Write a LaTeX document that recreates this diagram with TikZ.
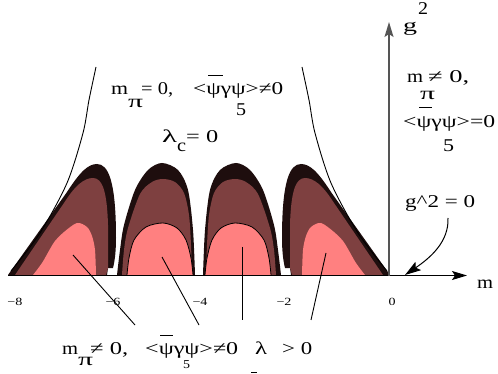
\documentclass[tikz,border=0pt]{standalone}
\usepackage{fontspec}
\setmainfont{Liberation Serif}
\usetikzlibrary{arrows.meta}
\definecolor{lobeblack}{RGB}{30,14,14}
\definecolor{lobebrown}{RGB}{126,64,64}
\definecolor{lobepink}{RGB}{255,128,128}
\definecolor{axisgray}{RGB}{85,85,85}
\newcommand{\tw}[2]{\resizebox{#1pt}{\height}{#2}}
\begin{document}
\begin{tikzpicture}[x=1pt,y=-1pt,
  lbl/.style={anchor=base west, inner sep=0pt, font=\fontsize{18}{21}\selectfont},
  sml/.style={anchor=base west, inner sep=0pt, font=\fontsize{12}{14}\selectfont},
  tick/.style={anchor=base, inner sep=0pt, font=\fontsize{11}{13}\selectfont},
  pointer/.style={draw=black, line width=0.9pt},
  thincurve/.style={draw=black, line width=0.9pt},
  barline/.style={draw=black, line width=0.9pt},
  axisarrow/.style={-{Stealth[length=15pt,width=9pt,inset=3pt]}}]
\useasboundingbox (0,0) rectangle (498,374);

% ---------- lobes (left half) and mirrored (right half) ----------
\foreach \mir in {0,1}{
\begin{scope}[shift={(\mir*398,0)}, xscale={1-2*\mir}]
  % lobe 1 (outer)
  \fill[lobeblack] (8,275) -- (67,192) .. controls (80,172) and (88,164) .. (97,164)
     .. controls (108,164) and (116,180) .. (116,238) .. controls (116,255) and (114,264) .. (113,268)
     -- (108,268) -- (107,275) -- cycle;
  \fill[lobebrown] (15,275) -- (66,200) .. controls (75,186) and (84,178) .. (93,178)
     .. controls (102,178) and (107,190) .. (108,225) -- (108,268) -- (106,275) -- cycle;
  \fill[lobepink] plot[smooth] coordinates {(33,275) (42,263) (50,249) (55,241) (64,232) (77,223) (87,227) (92,236) (95,250) (96,275)} -- cycle;
  % lobe 2 (inner)
  \fill[lobeblack] plot[smooth] coordinates {(117,275) (120,250) (124,225) (135,190) (148,170) (162,163) (178,170) (188,190) (193,230) (195,275)} -- cycle;
  \fill[lobebrown] plot[smooth] coordinates {(122,275) (124,250) (128,228) (140,194) (152,182) (163,179) (175,182) (184,193) (189,215) (191,245) (192,275)} -- cycle;
  \fill[lobepink] plot[smooth] coordinates {(127,275) (129,258) (134,240) (146,227) (163,223) (177,228) (186,240) (191,258) (193,275)} -- cycle;
  \draw[black, line width=0.8pt] plot[smooth] coordinates {(127,275) (129,258) (134,240) (146,227) (163,223) (177,228) (186,240) (191,258) (193,275)};
  % thin outer curve
  \draw[thincurve] plot[smooth] coordinates {(96,67) (89,100) (83,133) (67,183) (40,233) (11,271)};
\end{scope}
}

% ---------- axes ----------
\coordinate (xa0) at (8,275.5);
\coordinate (xa1) at (467,275.5);
\coordinate (ya0) at (389,276);
\coordinate (ya1) at (389,22);
\draw[black, line width=1pt, axisarrow] (xa0) -- (xa1);
\draw[axisgray, line width=1.5pt, axisarrow] (ya0) -- (ya1);

% ---------- tick labels ----------
\node[tick] (tm8) at (15,305) {\tw{15}{−8}};
\node[tick] (tm6) at (113,305) {\tw{15}{−6}};
\node[tick] (tm4) at (200,305) {\tw{15}{−4}};
\node[tick] (tm2) at (284,305) {\tw{15}{−2}};
\node[tick] (t0) at (392,305) {\tw{7}{0}};

% ---------- axis labels ----------
\node[lbl] (mlab) at (477,288) {\tw{16}{m}};
\node[lbl] (glab) at (403,32) {\tw{14}{g}};
\node[lbl] (g2lab) at (418,15) {\tw{10}{2}};

% ---------- top middle text ----------
\node[lbl] (a1) at (111,95) {\tw{17}{m}};
\node[lbl] (a2) at (128,108) {\tw{15}{π}};
\node[lbl] (a3) at (141,95) {\tw{32}{= 0,}};
\node[lbl] (a4) at (193,95) {\tw{90}{<ψγψ>≠0}};
\node[lbl] (a5) at (236,116) {\tw{10}{5}};
\coordinate (a6a) at (208,75); \coordinate (a6b) at (223,75);
\draw[barline] (a6a) -- (a6b);
\node[lbl] (b1) at (162,143) {\tw{15}{λ}};
\node[lbl] (b2) at (177,152) {\tw{9}{c}};
\node[lbl] (b3) at (186,143) {\tw{32}{= 0}};

% ---------- top right text ----------
\node[lbl] (c1) at (407,83) {\tw{16}{m}};
\node[lbl] (c2) at (420,100) {\tw{15}{π}};
\node[lbl] (c3) at (428,83) {\tw{41}{≠ 0,}};
\node[lbl] (c4) at (403,128) {\tw{92}{<ψγψ>=0}};
\coordinate (c5a) at (419,107); \coordinate (c5b) at (432,107);
\draw[barline] (c5a) -- (c5b);
\node[lbl] (c6) at (443,152) {\tw{11}{5}};

% ---------- g^2 = 0 ----------
\node[lbl] (gz) at (405,208) {\tw{70}{g\^{}2 = 0}};
\coordinate (gza) at (448,218);
\coordinate (gzb) at (405,275);
\draw[line width=1pt, -{Stealth[length=16pt,width=10pt,inset=3pt]}] (gza) .. controls (449,242) and (430,258) .. (gzb);

% ---------- bottom text ----------
\node[lbl] (d1) at (62,354) {\tw{16}{m}};
\node[lbl] (d2) at (78,365) {\tw{15}{π}};
\node[lbl] (d3) at (90,354) {\tw{38}{≠ 0,}};
\node[lbl] (d4) at (145,354) {\tw{93}{<ψγψ>≠0}};
\coordinate (d5a) at (160,335); \coordinate (d5b) at (173,335);
\draw[barline] (d5a) -- (d5b);
\node[sml] (d6) at (183,368) {\tw{7}{5}};
\node[lbl] (d7) at (255,354) {\tw{12}{λ}};
\node[lbl] (d8) at (282,354) {\tw{30}{> 0}};
\coordinate (d9a) at (251,372.5); \coordinate (d9b) at (257,372.5);
\draw[barline] (d9a) -- (d9b);

% ---------- pointers ----------
\coordinate (p1a) at (73,255); \coordinate (p1b) at (135,325);
\coordinate (p2a) at (162,257); \coordinate (p2b) at (199,325);
\coordinate (p3a) at (242,247); \coordinate (p3b) at (242,320);
\coordinate (p4a) at (326,253); \coordinate (p4b) at (311,320);
\draw[pointer] (p1a) -- (p1b);
\draw[pointer] (p2a) -- (p2b);
\draw[pointer] (p3a) -- (p3b);
\draw[pointer] (p4a) -- (p4b);
\end{tikzpicture}
\end{document}
